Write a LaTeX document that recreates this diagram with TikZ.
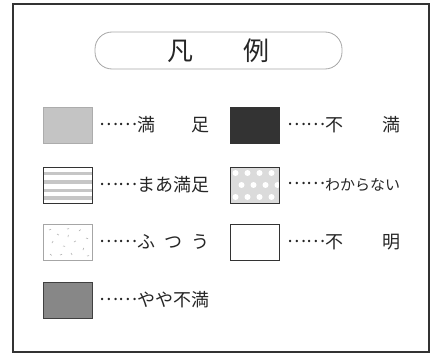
\documentclass[tikz,border=0pt]{standalone}
\usepackage{fontspec}
\setmainfont{Noto Sans CJK JP}
\usetikzlibrary{positioning}
\newcommand{\leaderdots}{\raisebox{0.34em}{……}}

\begin{document}
\begin{tikzpicture}[x=1pt, y=1pt,
    swatch/.style={draw=black!80, line width=0.8pt, minimum width=49pt, minimum height=36pt, inner sep=0pt},
    legendtext/.style={inner sep=0pt, text=black!85, font=\fontsize{18pt}{18pt}\selectfont},
    stripe/.style={draw=gray!45, line width=3.5pt},
    fleck/.style={draw=gray!60, line width=0.6pt},
    polka/.style={fill=white, draw=none}]
    \useasboundingbox (0,0) rectangle (438,354);

    % Frame and title of the legend
    \draw[black!80, line width=1.6pt] (13,350) rectangle (429,2);
    \node[draw=gray!70, line width=0.8pt, rounded corners=17pt, minimum width=247pt, minimum height=37pt,
        text=black!85, font=\fontsize{26pt}{26pt}\selectfont] (title) at (218.5,303.5)
        {\makebox[103pt][s]{凡\hfill 例}};

    % Swatches, left column
    \node[swatch, draw=gray!65, fill=gray!46] (manzoku) at (67.5,229) {};
    \node[swatch, fill=white, path picture={
        \foreach \yy in {5,12.5,21,29.5}
            \draw[stripe] ([yshift=\yy pt]path picture bounding box.south west) -- ([yshift=\yy pt]path picture bounding box.south east);
    }] (maamanzoku) at (67.5,169) {};
    \node[swatch, draw=gray!70, fill=white, path picture={
        \foreach \px/\py/\ang in {6/30/20, 14/26/-30, 24/31/10, 36/29/40, 43/22/-20, 9/17/60, 20/14/-10, 31/18/30, 40/10/70, 7/6/-40, 17/5/20, 28/7/-60, 44/4/10, 25/23/80}
            \draw[fleck] ([xshift=\px pt, yshift=\py pt]path picture bounding box.south west) -- ++(\ang:2.2pt);
    }] (futsuu) at (67.5,112) {};
    \node[swatch, draw=black!75, fill=black!47] (yayafuman) at (67.5,54) {};

    % Swatches, right column
    \node[swatch, fill=black!80] (fuman) at (255,229) {};
    \node[swatch, fill=gray!28, path picture={
        \foreach \px in {5,17,29,41} {
            \fill[polka] ([xshift=\px pt, yshift=6pt]path picture bounding box.south west) circle (3pt);
            \fill[polka] ([xshift=\px pt, yshift=30pt]path picture bounding box.south west) circle (3pt);
            \fill[polka] ([xshift=\px pt+6pt, yshift=18pt]path picture bounding box.south west) circle (3pt);
        }
    }] (wakaranai) at (255,169) {};
    \node[swatch, fill=white] (fumei) at (255,112) {};

    % Labels
    \node[legendtext, right=7pt of manzoku] (manzoku-l) {\leaderdots\makebox[72pt][s]{満\hfill 足}};
    \node[legendtext, right=7pt of maamanzoku] (maamanzoku-l) {\leaderdots\makebox[72pt][l]{まあ満足}};
    \node[legendtext, right=7pt of futsuu] (futsuu-l) {\leaderdots\makebox[72pt][s]{ふ\hfill つ\hfill う}};
    \node[legendtext, right=7pt of yayafuman] (yayafuman-l) {\leaderdots\makebox[72pt][l]{やや不満}};
    \node[legendtext, right=7pt of fuman] (fuman-l) {\leaderdots\makebox[75pt][s]{不\hfill 満}};
    \node[legendtext, right=7pt of wakaranai] (wakaranai-l) {\leaderdots\makebox[75pt][l]{\fontsize{15pt}{15pt}\selectfont わからない}};
    \node[legendtext, right=7pt of fumei] (fumei-l) {\leaderdots\makebox[75pt][s]{不\hfill 明}};
\end{tikzpicture}
\end{document}
